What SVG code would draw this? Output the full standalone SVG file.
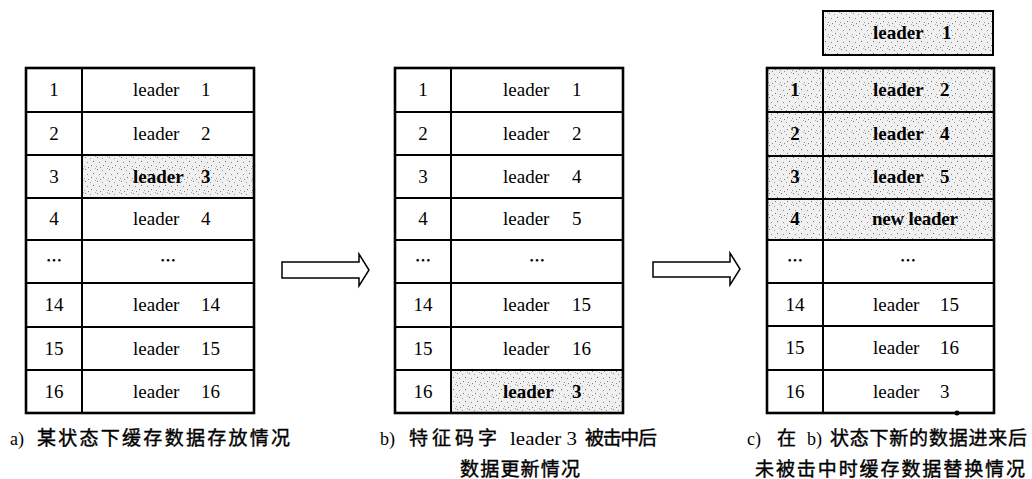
<svg xmlns="http://www.w3.org/2000/svg" width="1032" height="479" viewBox="0 0 1032 479">
<defs>
<pattern id="dots" width="12" height="12" patternUnits="userSpaceOnUse">
<rect width="12" height="12" fill="#f0f0f0"/>
<rect x="1" y="1" width="1" height="1" fill="#777"/>
<rect x="6" y="2" width="1" height="1" fill="#999"/>
<rect x="9" y="5" width="1" height="1" fill="#666"/>
<rect x="3" y="6" width="1" height="1" fill="#888"/>
<rect x="7" y="9" width="1" height="1" fill="#777"/>
<rect x="0" y="10" width="1" height="1" fill="#999"/>
<rect x="11" y="0" width="1" height="1" fill="#aaa"/>
<rect x="4" y="11" width="1" height="1" fill="#888"/>
</pattern>
<style>
.cell{fill:#fff;stroke:#000;stroke-width:2}
.hl{fill:url(#dots);stroke:#000;stroke-width:2}
.frame{fill:none;stroke:#000;stroke-width:2.6}
.t{font-family:"Liberation Serif","Times New Roman",serif;font-size:19px;fill:#000}
.b{font-weight:bold}
.c{text-anchor:middle}
.dots{font-family:"Noto Sans CJK SC",sans-serif;font-size:16px;font-weight:bold;text-anchor:middle;fill:#000}
.cap{font-family:"Liberation Serif","Noto Sans CJK SC",sans-serif;font-size:18px;fill:#000}
.cj{font-family:"Noto Sans CJK SC",sans-serif;font-size:19px;font-weight:normal;stroke:#000;stroke-width:0.4}
.arrow{fill:#fff;stroke:#000;stroke-width:1.5}
</style>
</defs>
<rect width="1032" height="479" fill="#fff"/>

<!-- Table a -->
<g id="table-a">
<g id="a-r1"><rect class="cell" x="26" y="68" width="56" height="44"/><rect class="cell" x="82" y="68" width="172" height="44"/><text class="t c" x="54" y="96">1</text><text class="t" x="133" y="96">leader</text><text class="t" x="201" y="96">1</text></g>
<g id="a-r2"><rect class="cell" x="26" y="112" width="56" height="43"/><rect class="cell" x="82" y="112" width="172" height="43"/><text class="t c" x="54" y="140">2</text><text class="t" x="133" y="140">leader</text><text class="t" x="201" y="140">2</text></g>
<g id="a-r3"><rect class="cell" x="26" y="155" width="56" height="43"/><rect class="hl" x="82" y="155" width="172" height="43"/><text class="t c" x="54" y="183">3</text><text class="t b" x="133" y="183">leader</text><text class="t b" x="201" y="183">3</text></g>
<g id="a-r4"><rect class="cell" x="26" y="198" width="56" height="42"/><rect class="cell" x="82" y="198" width="172" height="42"/><text class="t c" x="54" y="225">4</text><text class="t" x="133" y="225">leader</text><text class="t" x="201" y="225">4</text></g>
<g id="a-r5"><rect class="cell" x="26" y="240" width="56" height="43"/><rect class="cell" x="82" y="240" width="172" height="43"/><text class="dots" x="54" y="266">…</text><text class="dots" x="168" y="266">…</text></g>
<g id="a-r6"><rect class="cell" x="26" y="283" width="56" height="44"/><rect class="cell" x="82" y="283" width="172" height="44"/><text class="t c" x="54" y="311">14</text><text class="t" x="133" y="311">leader</text><text class="t" x="201" y="311">14</text></g>
<g id="a-r7"><rect class="cell" x="26" y="327" width="56" height="43"/><rect class="cell" x="82" y="327" width="172" height="43"/><text class="t c" x="54" y="355">15</text><text class="t" x="133" y="355">leader</text><text class="t" x="201" y="355">15</text></g>
<g id="a-r8"><rect class="cell" x="26" y="370" width="56" height="43"/><rect class="cell" x="82" y="370" width="172" height="43"/><text class="t c" x="54" y="398">16</text><text class="t" x="133" y="398">leader</text><text class="t" x="201" y="398">16</text></g>
<rect class="frame" x="26" y="68" width="228" height="345"/>
</g>

<!-- Table b -->
<g id="table-b">
<g id="b-r1"><rect class="cell" x="395" y="68" width="56" height="44"/><rect class="cell" x="451" y="68" width="172" height="44"/><text class="t c" x="423" y="96">1</text><text class="t" x="503" y="96">leader</text><text class="t" x="572" y="96">1</text></g>
<g id="b-r2"><rect class="cell" x="395" y="112" width="56" height="43"/><rect class="cell" x="451" y="112" width="172" height="43"/><text class="t c" x="423" y="140">2</text><text class="t" x="503" y="140">leader</text><text class="t" x="572" y="140">2</text></g>
<g id="b-r3"><rect class="cell" x="395" y="155" width="56" height="43"/><rect class="cell" x="451" y="155" width="172" height="43"/><text class="t c" x="423" y="183">3</text><text class="t" x="503" y="183">leader</text><text class="t" x="572" y="183">4</text></g>
<g id="b-r4"><rect class="cell" x="395" y="198" width="56" height="42"/><rect class="cell" x="451" y="198" width="172" height="42"/><text class="t c" x="423" y="225">4</text><text class="t" x="503" y="225">leader</text><text class="t" x="572" y="225">5</text></g>
<g id="b-r5"><rect class="cell" x="395" y="240" width="56" height="43"/><rect class="cell" x="451" y="240" width="172" height="43"/><text class="dots" x="423" y="266">…</text><text class="dots" x="537" y="266">…</text></g>
<g id="b-r6"><rect class="cell" x="395" y="283" width="56" height="44"/><rect class="cell" x="451" y="283" width="172" height="44"/><text class="t c" x="423" y="311">14</text><text class="t" x="503" y="311">leader</text><text class="t" x="572" y="311">15</text></g>
<g id="b-r7"><rect class="cell" x="395" y="327" width="56" height="43"/><rect class="cell" x="451" y="327" width="172" height="43"/><text class="t c" x="423" y="355">15</text><text class="t" x="503" y="355">leader</text><text class="t" x="572" y="355">16</text></g>
<g id="b-r8"><rect class="cell" x="395" y="370" width="56" height="43"/><rect class="hl" x="451" y="370" width="172" height="43"/><text class="t c" x="423" y="398">16</text><text class="t b" x="503" y="398">leader</text><text class="t b" x="572" y="398">3</text></g>
<rect class="frame" x="395" y="68" width="228" height="345"/>
</g>

<!-- Table c -->
<g id="table-c">
<g id="c-out"><rect class="hl" x="823" y="11" width="170" height="44" stroke-width="2.6"/><text class="t b" x="873" y="39">leader</text><text class="t b" x="942" y="39">1</text></g>
<g id="c-r1"><rect class="hl" x="767" y="68" width="56" height="44"/><rect class="hl" x="823" y="68" width="171" height="44"/><text class="t c b" x="795" y="96">1</text><text class="t b" x="873" y="96">leader</text><text class="t b" x="940" y="96">2</text></g>
<g id="c-r2"><rect class="hl" x="767" y="112" width="56" height="44"/><rect class="hl" x="823" y="112" width="171" height="44"/><text class="t c b" x="795" y="140">2</text><text class="t b" x="873" y="140">leader</text><text class="t b" x="940" y="140">4</text></g>
<g id="c-r3"><rect class="hl" x="767" y="156" width="56" height="43"/><rect class="hl" x="823" y="156" width="171" height="43"/><text class="t c b" x="795" y="183">3</text><text class="t b" x="873" y="183">leader</text><text class="t b" x="940" y="183">5</text></g>
<g id="c-r4"><rect class="hl" x="767" y="199" width="56" height="41"/><rect class="hl" x="823" y="199" width="171" height="41"/><text class="t c b" x="795" y="225">4</text><text class="t b" x="872" y="225" textLength="86" lengthAdjust="spacing">new leader</text></g>
<g id="c-r5"><rect class="cell" x="767" y="240" width="56" height="43"/><rect class="cell" x="823" y="240" width="171" height="43"/><text class="dots" x="795" y="266">…</text><text class="dots" x="908" y="266">…</text></g>
<g id="c-r6"><rect class="cell" x="767" y="283" width="56" height="43"/><rect class="cell" x="823" y="283" width="171" height="43"/><text class="t c" x="795" y="311">14</text><text class="t" x="873" y="311">leader</text><text class="t" x="940" y="311">15</text></g>
<g id="c-r7"><rect class="cell" x="767" y="326" width="56" height="44"/><rect class="cell" x="823" y="326" width="171" height="44"/><text class="t c" x="795" y="354">15</text><text class="t" x="873" y="354">leader</text><text class="t" x="940" y="354">16</text></g>
<g id="c-r8"><rect class="cell" x="767" y="370" width="56" height="43"/><rect class="cell" x="823" y="370" width="171" height="43"/><text class="t c" x="795" y="398">16</text><text class="t" x="873" y="398">leader</text><text class="t" x="940" y="398">3</text></g>
<rect class="frame" x="767" y="68" width="227" height="345"/>
<circle cx="957" cy="413" r="2.5" fill="#000"/>
</g>

<!-- Connectors -->
<g id="connectors">
<polygon class="arrow" points="282,262 359,262 359,254 369,270 359,286 359,278 282,278"/>
<polygon class="arrow" points="653,262 730,262 730,253 740,269 730,285 730,277 653,277"/>
</g>

<!-- Captions -->
<g id="captions">
<text class="cap" y="445"><tspan x="10">a)</tspan><tspan class="cj" x="37" textLength="253" lengthAdjust="spacing">某状态下缓存数据存放情况</tspan></text>
<text class="cap" y="445"><tspan x="380">b)</tspan><tspan class="cj" x="409" textLength="88" lengthAdjust="spacing">特征码字</tspan><tspan x="510" textLength="67" lengthAdjust="spacingAndGlyphs">leader 3</tspan><tspan class="cj" x="585" textLength="72" lengthAdjust="spacing">被击中后</tspan></text>
<text class="cap cj" x="460" y="476" textLength="120" lengthAdjust="spacing">数据更新情况</text>
<text class="cap" y="445"><tspan x="747">c)</tspan><tspan class="cj" x="777">在</tspan><tspan x="807">b)</tspan><tspan class="cj" x="830" textLength="197" lengthAdjust="spacing">状态下新的数据进来后</tspan></text>
<text class="cap cj" x="755" y="476" textLength="270" lengthAdjust="spacing">未被击中时缓存数据替换情况</text>
</g>
</svg>
